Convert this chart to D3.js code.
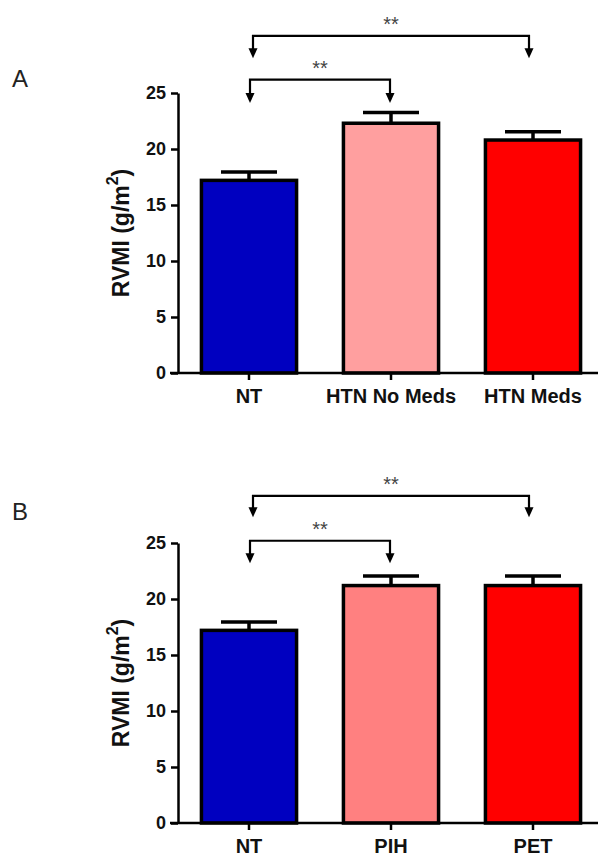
<!DOCTYPE html>
<html>
<head>
<meta charset="utf-8">
<script src="https://cdn.jsdelivr.net/npm/d3@7"></script>
<style>
	body { margin: 0; background: #fff; }
	svg text { font-family: Arial, 'Liberation Sans', sans-serif; }
</style>
</head>
<body>
<svg id="svg"></svg>
<script>
// panel A
const categoriesA = ['NT', 'HTN No Meds', 'HTN Meds'];
const meansA = [17.2, 22.3, 20.8];
const semA = [0.75, 0.95, 0.75];
const colorsA = ['#0000c0', '#ff9f9f', '#ff0000'];
const bracketsA = [
	{ from: 0, to: 1, level: 26.2, tip: 24.1, label: '**' },
	{ from: 0, to: 2, level: 30.1, tip: 28.1, label: '**' }
];

// panel B
const categoriesB = ['NT', 'PIH', 'PET'];
const meansB = [17.2, 21.2, 21.2];
const semB = [0.75, 0.85, 0.85];
const colorsB = ['#0000c0', '#ff8080', '#ff0000'];
const bracketsB = [
	{ from: 0, to: 1, level: 25.2, tip: 23.2, label: '**' },
	{ from: 0, to: 2, level: 29.2, tip: 27.3, label: '**' }
];

const yTicks = [0, 5, 10, 15, 20, 25];
const yMax = 25;

const svgWidth = 598;
const svgHeight = 858;
const axisX = 178;
const plotHeight = 280;

const svg = d3.select('#svg').attr('width', svgWidth).attr('height', svgHeight);

drawPanel({ top: 93, letter: 'A', letterY: 87, categories: categoriesA, means: meansA, sem: semA, colors: colorsA, brackets: bracketsA });
drawPanel({ top: 543, letter: 'B', letterY: 520, categories: categoriesB, means: meansB, sem: semB, colors: colorsB, brackets: bracketsB });

function drawPanel(p) {
	const g = svg.append('g').attr('transform', `translate(0, ${p.top})`);

	const x = d3.scaleBand()
		.domain(p.categories)
		.range([axisX, axisX + 426])
		.paddingInner(0.33)
		.paddingOuter(0.165);

	const y = d3.scaleLinear()
		.domain([0, yMax])
		.range([plotHeight, 0]);

	const rows = p.categories.map((c, i) => ({ cat: c, mean: p.means[i], sem: p.sem[i], color: p.colors[i] }));

	// error bars (drawn first so the bar outline covers the stem)
	const err = g.selectAll('g.err').data(rows).enter().append('g').attr('class', 'err');
	err.append('line')
		.attr('x1', d => x(d.cat) + x.bandwidth() / 2)
		.attr('x2', d => x(d.cat) + x.bandwidth() / 2)
		.attr('y1', d => y(d.mean))
		.attr('y2', d => y(d.mean + d.sem))
		.attr('stroke', '#000').attr('stroke-width', 3.5);
	err.append('line')
		.attr('x1', d => x(d.cat) + x.bandwidth() / 2 - 28)
		.attr('x2', d => x(d.cat) + x.bandwidth() / 2 + 28)
		.attr('y1', d => y(d.mean + d.sem))
		.attr('y2', d => y(d.mean + d.sem))
		.attr('stroke', '#000').attr('stroke-width', 3.5);

	// bars
	g.selectAll('rect.bar').data(rows).enter().append('rect')
		.attr('class', 'bar')
		.attr('x', d => x(d.cat))
		.attr('y', d => y(d.mean))
		.attr('width', x.bandwidth())
		.attr('height', d => y(0) - y(d.mean))
		.attr('fill', d => d.color)
		.attr('stroke', '#000')
		.attr('stroke-width', 3.5);

	// y axis
	const yAxis = g.append('g')
		.attr('transform', `translate(${axisX}, 0)`)
		.call(d3.axisLeft(y).tickValues(yTicks).tickSize(7).tickSizeOuter(0).tickPadding(5));
	yAxis.select('.domain').attr('stroke-width', 2.5);
	yAxis.selectAll('.tick line').attr('stroke-width', 2.5);
	yAxis.selectAll('.tick text')
		.attr('font-size', 18).attr('font-weight', 'bold').attr('fill', '#111')
		.style('font-family', "Arial, 'Liberation Sans', sans-serif");

	// x axis
	const xAxis = g.append('g')
		.attr('transform', `translate(0, ${plotHeight})`)
		.call(d3.axisBottom(x).tickSize(7).tickSizeOuter(0).tickPadding(9));
	xAxis.select('.domain').attr('stroke-width', 2.5).attr('d', `M${axisX - 8},0H${axisX + 426}`);
	xAxis.selectAll('.tick line').attr('stroke-width', 2.5);
	xAxis.selectAll('.tick text')
		.attr('font-size', 20).attr('font-weight', 'bold').attr('fill', '#111')
		.style('font-family', "Arial, 'Liberation Sans', sans-serif");

	// y axis title
	const yLabel = g.append('text')
		.attr('transform', `translate(121, ${plotHeight / 2}) rotate(-90)`)
		.attr('text-anchor', 'middle')
		.attr('dominant-baseline', 'central')
		.attr('font-size', 23)
		.attr('font-weight', 'bold')
		.attr('fill', '#111');
	yLabel.append('tspan').text('RVMI (g/m');
	yLabel.append('tspan').attr('baseline-shift', 'super').attr('font-size', 16).text('2');
	yLabel.append('tspan').text(')');

	// significance brackets
	const cx = i => x(p.categories[i]) + x.bandwidth() / 2;
	p.brackets.forEach((b, k) => {
		const inset = k === 0 ? 1 : 4;
		const x1 = cx(b.from) + inset;
		const x2 = cx(b.to) - inset;
		const yl = y(b.level);
		const yt = y(b.tip);
		g.append('path')
			.attr('d', `M${x1},${yt - 8}V${yl}H${x2}V${yt - 8}`)
			.attr('fill', 'none')
			.attr('stroke', '#000')
			.attr('stroke-width', 2.2);
		[x1, x2].forEach(ax => {
			g.append('path')
				.attr('d', `M${ax - 4.5},${yt - 10}L${ax + 4.5},${yt - 10}L${ax},${yt}Z`)
				.attr('fill', '#000');
		});
		g.append('text')
			.attr('x', (x1 + x2) / 2)
			.attr('y', yl - 5)
			.attr('text-anchor', 'middle')
			.attr('font-size', 20)
			.attr('fill', '#444')
			.text(b.label);
	});

	// panel letter
	svg.append('text')
		.attr('x', 12)
		.attr('y', p.letterY)
		.attr('font-size', 24)
		.attr('fill', '#222')
		.text(p.letter);
}
</script>
</body>
</html>
